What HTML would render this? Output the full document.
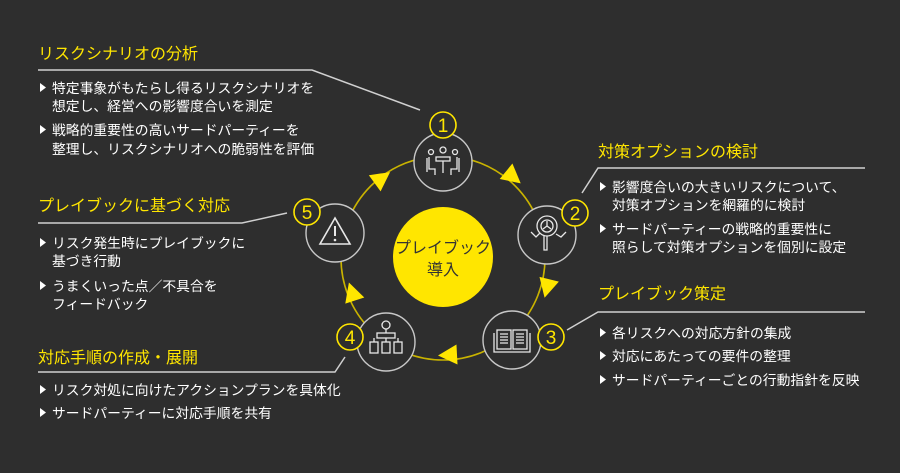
<!DOCTYPE html>
<html><head><meta charset="utf-8"><style>
html,body{margin:0;padding:0;background:#2e2e2e;}
svg{display:block}
text{font-family:"Liberation Sans","Noto Sans CJK JP",sans-serif;}
.t{fill:#ffe600;font-size:16px;}
.b{fill:#ffffff;font-size:13.8px;}
.m{fill:#ffffff;}
</style></head><body>
<svg width="900" height="473" viewBox="0 0 900 473" xmlns="http://www.w3.org/2000/svg">
<rect width="900" height="473" fill="#2e2e2e"/>
<circle cx="443" cy="258" r="102" fill="none" stroke="#c9b300" stroke-width="1.6"/>
<g fill="#ffe600">
<polygon points="10,0 -9,-10 -9,10" transform="translate(513,177) rotate(39.5)"/>
<polygon points="10,0 -9,-10 -9,10" transform="translate(547,288) rotate(104)"/>
<polygon points="10,0 -9,-10 -9,10" transform="translate(448,355) rotate(177)"/>
<polygon points="10,0 -9,-10 -9,10" transform="translate(352,292) rotate(252)"/>
<polygon points="10,0 -9,-10 -9,10" transform="translate(382,178) rotate(-36)"/>
</g>
<circle cx="443" cy="257" r="50" fill="#ffe600"/>
<text x="443" y="253" text-anchor="middle" font-size="16" fill="#333">プレイブック</text>
<text x="443" y="275" text-anchor="middle" font-size="16" fill="#333">導入</text>
<g fill="#2e2e2e" stroke="#c8c8c8" stroke-width="1.4">
<circle cx="443" cy="162" r="29"/>
<circle cx="547" cy="235" r="29"/>
<circle cx="512" cy="340" r="29"/>
<circle cx="386" cy="342" r="29"/>
<circle cx="335" cy="233" r="29"/>
</g>
<g fill="none" stroke="#e8e8e8" stroke-width="1.3">
<circle cx="443" cy="150" r="3"/><circle cx="431" cy="152" r="2.5"/><circle cx="455" cy="152" r="2.5"/>
<rect x="436" y="157" width="14" height="4"/>
<path d="M429 157v12h6v6M457 157v12h-6v6M443 161v12M427 158v14M459 158v14"/>
<circle cx="547" cy="226" r="10"/><circle cx="547" cy="226" r="6"/>
<path d="M547 236v14h-3v-14M547 226l-4 3M547 226l4 3M547 226v-5M531 232l5 5 4-4M556 234l5 3 5-5"/>
<rect x="497" y="330" width="14" height="19"/><rect x="513" y="330" width="14" height="19"/>
<path d="M494 333v19h36v-19M500 334h8M500 337h8M500 340h8M500 343h8M516 334h8M516 337h8M516 340h8M516 343h8"/>
<circle cx="386" cy="325" r="4"/><path d="M386 329v4"/><rect x="377" y="333" width="18" height="5"/>
<path d="M374 338v4M386 338v4M398 338v4"/>
<rect x="370" y="342" width="8" height="11"/><rect x="382" y="342" width="8" height="11"/><rect x="394" y="342" width="8" height="11"/>
<path d="M335 218l-15 26h30z" stroke-width="1.6"/>
<path d="M335 226v10" stroke-width="2"/>
</g>
<circle cx="335" cy="240" r="1.3" fill="#e8e8e8"/>
<g fill="#2e2e2e" stroke="#ffe600" stroke-width="1.6">
<circle cx="443" cy="125" r="13"/>
<circle cx="575" cy="213" r="13"/>
<circle cx="551" cy="337" r="13"/>
<circle cx="350" cy="337" r="13"/>
<circle cx="307" cy="212" r="13"/>
</g>
<g fill="#ffe600" font-size="19" text-anchor="middle">
<text x="443" y="132">1</text>
<text x="575" y="220">2</text>
<text x="551" y="344">3</text>
<text x="350" y="344">4</text>
<text x="307" y="219">5</text>
</g>
<g fill="none" stroke="#d0d0d0" stroke-width="1.5">
<path d="M38 70H312L420 110"/>
<path d="M865 168H598L582 193"/>
<path d="M865 312H598L567 330"/>
<path d="M38 223H242L287 213"/>
<path d="M38 372H335L345 357"/>
</g>
<text class="t" x="38" y="59">リスクシナリオの分析</text>
<g class="m"><polygon points="40,83 40,92 46,87.5"/><polygon points="40,125 40,134 46,129.5"/></g>
<text class="b" x="52" y="93">特定事象がもたらし得るリスクシナリオを</text>
<text class="b" x="52" y="111">想定し、経営への影響度合いを測定</text>
<text class="b" x="52" y="135">戦略的重要性の高いサードパーティーを</text>
<text class="b" x="52" y="154">整理し、リスクシナリオへの脆弱性を評価</text>
<text class="t" x="598" y="157">対策オプションの検討</text>
<g class="m"><polygon points="600,182 600,191 606,186.5"/><polygon points="600,224 600,233 606,228.5"/></g>
<text class="b" x="612" y="192">影響度合いの大きいリスクについて、</text>
<text class="b" x="612" y="210">対策オプションを網羅的に検討</text>
<text class="b" x="612" y="234">サードパーティーの戦略的重要性に</text>
<text class="b" x="612" y="252">照らして対策オプションを個別に設定</text>
<text class="t" x="598" y="299">プレイブック策定</text>
<g class="m"><polygon points="600,328 600,337 606,332.5"/><polygon points="600,351 600,360 606,355.5"/><polygon points="600,375 600,384 606,379.5"/></g>
<text class="b" x="612" y="338">各リスクへの対応方針の集成</text>
<text class="b" x="612" y="361">対応にあたっての要件の整理</text>
<text class="b" x="612" y="385">サードパーティーごとの行動指針を反映</text>
<text class="t" x="38" y="211">プレイブックに基づく対応</text>
<g class="m"><polygon points="40,238 40,247 46,242.5"/><polygon points="40,281 40,290 46,285.5"/></g>
<text class="b" x="52" y="248">リスク発生時にプレイブックに</text>
<text class="b" x="52" y="266">基づき行動</text>
<text class="b" x="52" y="291">うまくいった点／不具合を</text>
<text class="b" x="52" y="309">フィードバック</text>
<text class="t" x="38" y="363">対応手順の作成・展開</text>
<g class="m"><polygon points="40,385 40,394 46,389.5"/><polygon points="40,408 40,417 46,412.5"/></g>
<text class="b" x="52" y="395">リスク対処に向けたアクションプランを具体化</text>
<text class="b" x="52" y="418">サードパーティーに対応手順を共有</text>
</svg>
</body></html>
